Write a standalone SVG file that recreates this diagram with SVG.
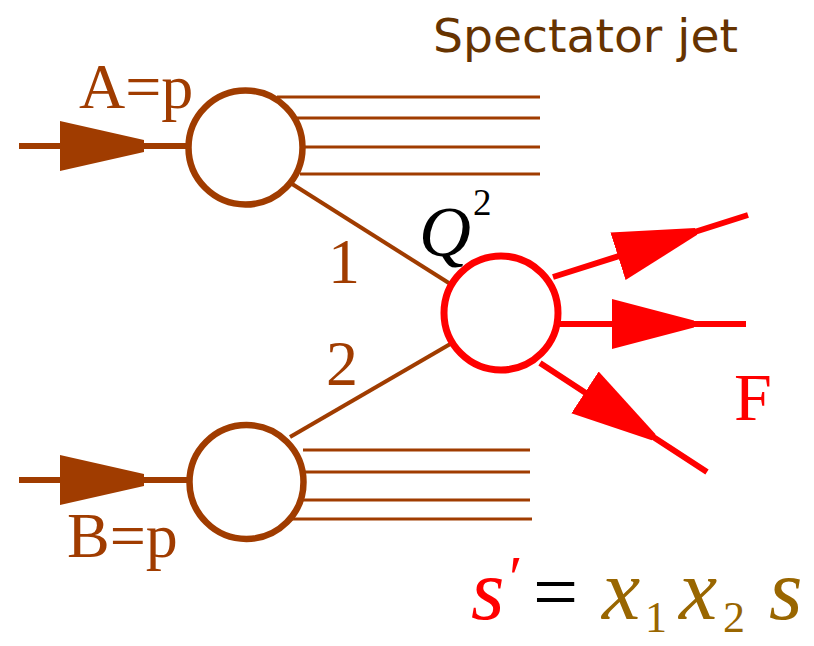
<svg xmlns="http://www.w3.org/2000/svg" width="814" height="646" viewBox="0 0 814 646">
<style>
.br{stroke:#A03C00;fill:none}
.rd{stroke:#FF0000;fill:none}
.serif{font-family:"Liberation Serif","Times New Roman",serif}
.lbl{fill:#A03C00;font-size:64px}
</style>
<defs>
<marker id="headBr" markerUnits="userSpaceOnUse" viewBox="0 -26 90 52" markerWidth="90" markerHeight="52" refX="0" refY="0" orient="auto">
<path d="M0,-25 L84,-6 L84,6 L0,25 Z" fill="#A03C00"/>
</marker>
<marker id="headRd" markerUnits="userSpaceOnUse" viewBox="0 -26 90 52" markerWidth="90" markerHeight="52" refX="0" refY="0" orient="auto">
<path d="M0,-25 L82,-3.5 L82,3.5 L0,25 Z" fill="#FF0000"/>
</marker>
</defs>
<rect width="814" height="646" fill="#fff"/>

<text x="433" y="52" font-family="'DejaVu Sans',sans-serif" font-size="47" fill="#663300" textLength="305" lengthAdjust="spacingAndGlyphs">Spectator jet</text>

<g id="connectors">
<path class="br" stroke-width="6" d="M19,146 L60,146 L186,146" marker-mid="url(#headBr)"/>
<path class="br" stroke-width="6" d="M19,480 L60,480 L188,480" marker-mid="url(#headBr)"/>
<g class="br" stroke-width="3">
<line x1="277" y1="97" x2="540" y2="97"/>
<line x1="297" y1="118" x2="540" y2="118"/>
<line x1="305" y1="147" x2="540" y2="147"/>
<line x1="300" y1="174" x2="540" y2="174"/>
<line x1="303" y1="450" x2="530" y2="450"/>
<line x1="305" y1="472" x2="530" y2="472"/>
<line x1="303" y1="500" x2="530" y2="500"/>
<line x1="292" y1="519" x2="532" y2="519"/>
</g>
<line class="br" stroke-width="4" x1="289" y1="182" x2="452" y2="285"/>
<line class="br" stroke-width="4" x1="290" y1="437" x2="452" y2="343"/>
<path class="rd" stroke-width="6" d="M553,277 L618,256.3 L748,215" marker-mid="url(#headRd)"/>
<path class="rd" stroke-width="6" d="M558,324 L612,324 L746,324" marker-mid="url(#headRd)"/>
<path class="rd" stroke-width="6" d="M540,363 L585,392.4 L707,472" marker-mid="url(#headRd)"/>
</g>

<g id="nodeA">
<circle class="br" stroke-width="6.5" cx="245.5" cy="147.5" r="57"/>
<text class="serif lbl" x="79" y="108">A=p</text>
</g>
<g id="nodeB">
<circle class="br" stroke-width="6.5" cx="246.5" cy="482" r="57"/>
<text class="serif lbl" x="67" y="557">B=p</text>
</g>
<g id="nodeHard">
<circle class="rd" stroke-width="7" cx="501" cy="313" r="57"/>
<text class="serif" x="419" y="256" font-size="72" font-style="italic" fill="#000">Q</text>
<text class="serif" x="473" y="215" font-size="37" fill="#000">2</text>
</g>

<text class="serif lbl" x="328" y="283">1</text>
<text class="serif lbl" x="326" y="385">2</text>
<text class="serif" x="734" y="420" font-size="68" fill="#FF0000">F</text>

<g id="formula" class="serif">
<text x="471" y="619" font-size="86" font-style="italic" fill="#FF0000">s</text>
<text x="509" y="598" font-size="62" fill="#FF0000">′</text>
<text x="533" y="619" font-size="80" fill="#000">=</text>
<text x="602" y="619" font-size="86" font-style="italic" fill="#996600">x</text>
<text x="645" y="632" font-size="44" fill="#996600">1</text>
<text x="679" y="619" font-size="86" font-style="italic" fill="#996600">x</text>
<text x="723" y="632" font-size="44" fill="#996600">2</text>
<text x="769" y="619" font-size="86" font-style="italic" fill="#996600">s</text>
</g>
</svg>
